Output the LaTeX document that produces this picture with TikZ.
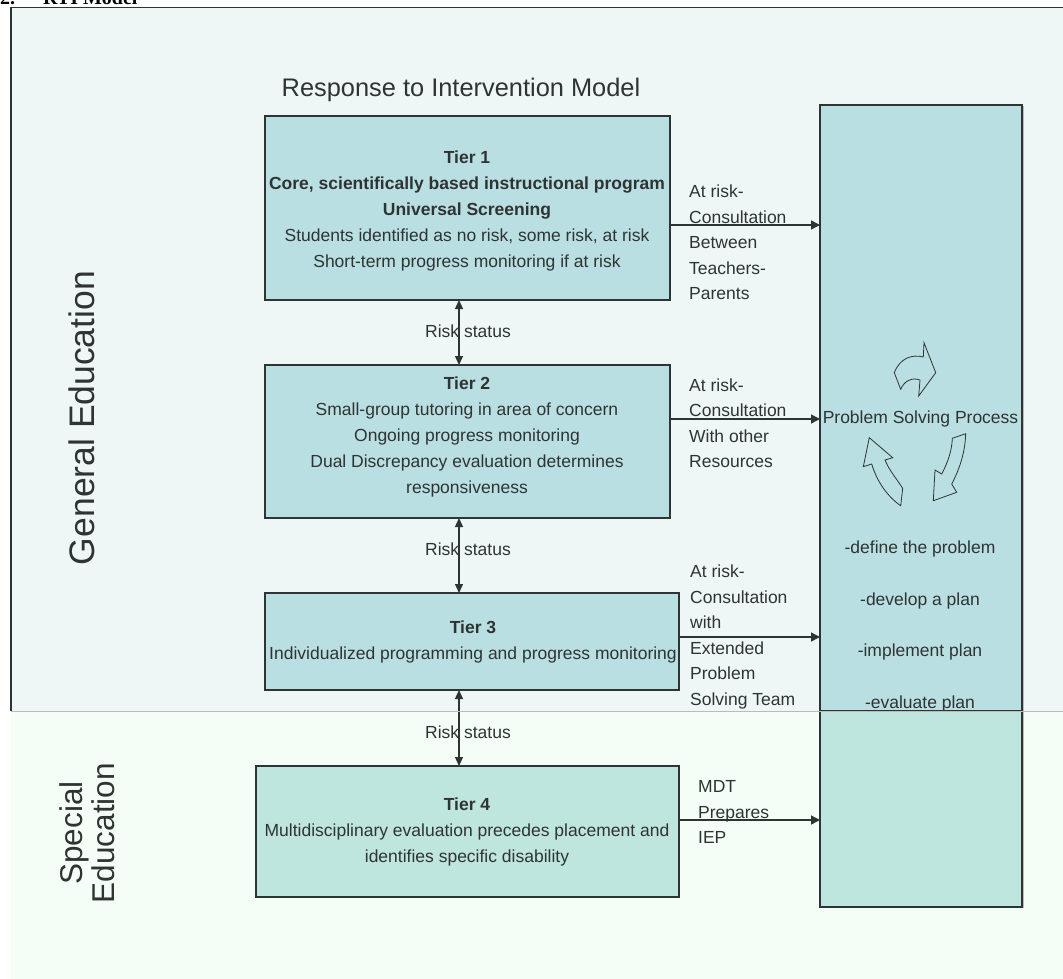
\documentclass[tikz,border=0pt]{standalone}
\usepackage{fontspec}
\setmainfont{Liberation Sans}
\newfontfamily\serifbold{Liberation Serif}
\usetikzlibrary{arrows.meta,calc}
\definecolor{genbg}{HTML}{EEF7F6}
\definecolor{spebg}{HTML}{F4FEF6}
\definecolor{boxA}{HTML}{B9DFE2}
\definecolor{boxB}{HTML}{BFE5DF}
\definecolor{ink}{HTML}{2F3433}
\definecolor{edge}{HTML}{2E3432}
\definecolor{sepline}{HTML}{BBBBBB}
\begin{document}
\begin{tikzpicture}[x=1pt,y=-1pt,
  tierbox/.style={draw=edge,line width=1.3pt,fill=boxA,inner sep=0pt,outer sep=0pt},
  txt/.style={text=ink,font=\fontsize{17.5}{26}\selectfont,align=center,inner sep=0pt},
  lab/.style={text=ink,font=\fontsize{17.5}{25.5}\selectfont,align=left,inner sep=0pt,anchor=west},
  rs/.style={text=ink,font=\fontsize{17.5}{21}\selectfont,inner sep=0pt},
  arr/.style={draw=edge,line width=1.3pt,-{Triangle[length=9pt,width=9pt]}},
  darr/.style={draw=edge,line width=1.3pt,{Triangle[length=9pt,width=8pt]}-{Triangle[length=9pt,width=8pt]}},
  blockarrow/.style={draw=edge,line width=0.8pt,fill=boxA,line join=miter}]
\useasboundingbox (0,0) rectangle (1063,978);
\fill[white] (0,0) rectangle (1063,978);
% panels
\fill[spebg] (11,711) rectangle (1070,990);
\fill[genbg] (11,7.5) rectangle (1070,711);
\draw[edge,line width=1.3pt] (11,711) -- (11,7.5) -- (1070,7.5);
% caption (cut off at the top edge, as in the reference)
\node[anchor=base west,inner sep=0pt,text=black,font=\serifbold\bfseries\fontsize{20}{20}\selectfont] (cap) at (0,4) {2.\hspace{28pt}RTI Model};
% title
\node[text=ink,font=\fontsize{25.4}{30}\selectfont,inner sep=0pt] (title) at (461,90) {Response to Intervention Model};
% side labels
\node[text=ink,font=\fontsize{35.5}{35.5}\selectfont,rotate=90,inner sep=0pt] (gen) at (82,418) {General Education};
\node[text=ink,font=\fontsize{31.5}{31.6}\selectfont,rotate=90,align=center,inner sep=0pt] (spe) at (87.5,833) {Special\\Education};
% column
\node[tierbox,minimum width=202,minimum height=606] (colup) at (921,408) {};
\node[tierbox,fill=boxB,minimum width=202,minimum height=196] (collow) at (921,809) {};
\draw[sepline,line width=1pt] (1023.5,106) -- (1023.5,908);
% tier boxes
\node[tierbox,minimum width=405,minimum height=184] (t1) at (467.5,208) {};
\node[tierbox,minimum width=405,minimum height=153] (t2) at (467.5,441.5) {};
\node[tierbox,minimum width=414,minimum height=97] (t3) at (472,641.5) {};
\node[tierbox,fill=boxB,minimum width=423,minimum height=131] (t4) at (467.5,831.5) {};
% tier texts
\node[txt] (t1txt) at (467,210.8) {\textbf{Tier 1}\\\textbf{Core, scientifically based instructional program}\\\textbf{Universal Screening}\\Students identified as no risk, some risk, at risk\\Short-term progress monitoring if at risk};
\node[txt] (t2txt) at (467,436.8) {\textbf{Tier 2}\\Small-group tutoring in area of concern\\Ongoing progress monitoring\\Dual Discrepancy evaluation determines\\responsiveness};
\node[txt] (t3txt) at (473,642.3) {\textbf{Tier 3}\\Individualized programming and progress monitoring};
\node[txt] (t4txt) at (467,831.8) {\textbf{Tier 4}\\Multidisciplinary evaluation precedes placement and\\identifies specific disability};
% column texts
\node[txt] (psp) at (920.5,419) {Problem Solving Process};
\node[txt,font=\fontsize{17.5}{51.7}\selectfont] (steps) at (920,626.4) {-define the problem\\-develop a plan\\-implement plan\\-evaluate plan};
% block arrows
\draw[blockarrow] (894.3,372.7) .. controls (900,358) and (912,354) .. (923.3,357) -- (924,342.7) -- (935.7,372.7) -- (918.7,396) -- (920,380) .. controls (912,377) and (904,381) .. (900.7,389.3) -- cycle;
\draw[blockarrow] (952.3,438.3) -- (965.7,433.7) .. controls (965,455) and (958,472) .. (951.7,484) -- (956.7,492.3) -- (933.3,500.7) -- (935,470) -- (941.7,474) .. controls (948,462) and (952,450) .. (952.3,438.3) -- cycle;
\draw[blockarrow] (900.7,505.7) -- (902.7,488.3) .. controls (896,478) and (889,470) .. (885,460) -- (892.7,457.7) -- (869.3,437.7) -- (863.3,466.7) -- (871.7,464) .. controls (877,482) and (888,497) .. (900.7,505.7) -- cycle;
% arrow labels
\node[lab] (l1) at (689,242.5) {At risk-\\Consultation\\Between\\Teachers-\\Parents};
\node[lab] (l2) at (689,423) {At risk-\\Consultation\\With other\\Resources};
\node[lab] (l3) at (690,637) {At risk-\\Consultation\\with\\Extended\\Problem\\Solving Team};
\node[lab] (l4) at (698,812) {MDT\\Prepares\\IEP};
% risk status labels
\node[rs] (r1) at (468,331.7) {Risk status};
\node[rs] (r2) at (468,549) {Risk status};
\node[rs] (r3) at (468,732) {Risk status};
% connectors
\draw[arr] (t1.east |- 0,225) -- (colup.west |- 0,225);
\draw[arr] (t2.east |- 0,419) -- (colup.west |- 0,419);
\draw[arr] (t3.east |- 0,637) -- (colup.west |- 0,637);
\draw[arr] (t4.east |- 0,820) -- (collow.west |- 0,820);
\draw[darr] ([xshift=-8.5pt]t1.south) -- ([xshift=-8.5pt]t2.north);
\draw[darr] ([xshift=-8.5pt]t2.south) -- ([xshift=-13pt]t3.north);
\draw[darr] ([xshift=-13pt]t3.south) -- ([xshift=-8.5pt]t4.north);
% separator line
\draw[sepline,line width=1.2pt] (11,711.5) -- (1070,711.5);
\end{tikzpicture}
\end{document}
